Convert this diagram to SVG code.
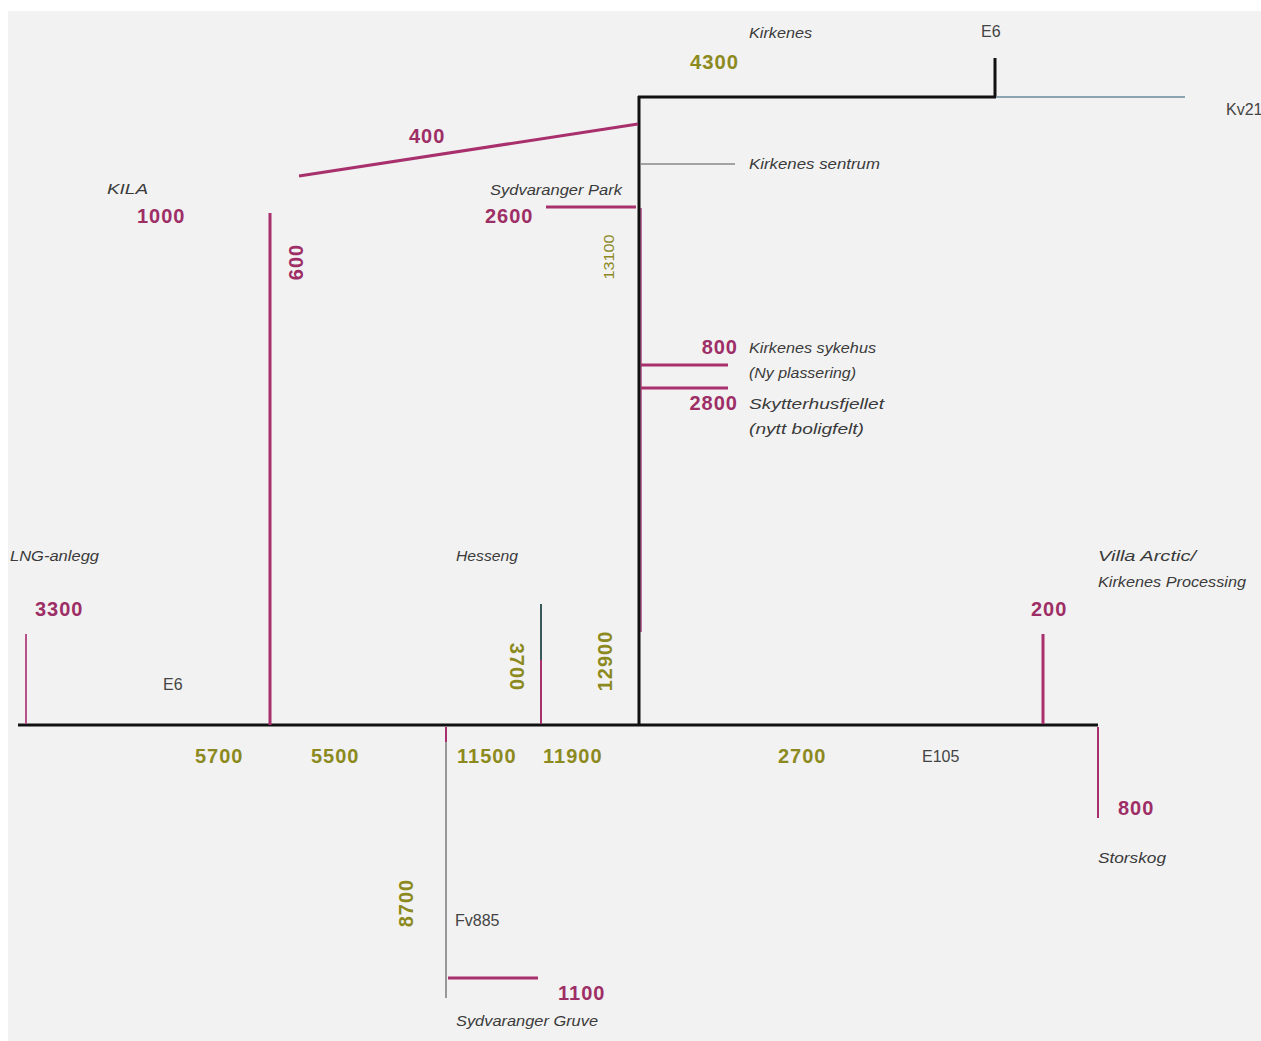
<svg xmlns="http://www.w3.org/2000/svg" width="1261" height="1041" viewBox="0 0 1261 1041">
<style>
.lbl{font-family:"Liberation Sans",Arial,sans-serif;font-style:italic;font-size:15px;fill:#3a3a3a}
.rd{font-family:"Liberation Sans",Arial,sans-serif;font-size:16px;fill:#444}
.pk{font-family:"Liberation Sans",Arial,sans-serif;font-weight:bold;font-size:20px;letter-spacing:1px;fill:#9e2e66}
.ol{font-family:"Liberation Sans",Arial,sans-serif;font-weight:bold;font-size:20px;letter-spacing:1px;fill:#8c8a1e}
.ols{font-family:"Liberation Sans",Arial,sans-serif;font-size:14px;fill:#8c8a1e}
.blk{stroke:#111;stroke-width:3;fill:none}
.pl{stroke:#a8306c;stroke-width:3;fill:none}
.gl{stroke:#888;stroke-width:1.5;fill:none}
</style>
<rect x="0" y="0" width="1261" height="1041" fill="#ffffff"/>
<rect x="8" y="11" width="1253" height="1030" fill="#f2f2f2"/>
<g id="connectors">
<line class="blk" x1="18" y1="725" x2="1098" y2="725"/>
<line x1="641" y1="208" x2="641" y2="632" stroke="#c070a0" stroke-width="2"/>
<line class="blk" x1="639" y1="96" x2="639" y2="726"/>
<line class="blk" x1="638" y1="97" x2="996" y2="97"/>
<line class="blk" x1="995" y1="58" x2="995" y2="97"/>
<line x1="996" y1="97" x2="1185" y2="97" stroke="#6a8a9a" stroke-width="1.5"/>
<line class="pl" x1="299" y1="176" x2="638" y2="124"/>
<line class="gl" x1="641" y1="164" x2="735" y2="164"/>
<line class="pl" x1="546" y1="207" x2="636" y2="207"/>
<line class="pl" x1="270" y1="213" x2="270" y2="725"/>
<line class="pl" x1="641" y1="365" x2="728" y2="365"/>
<line class="pl" x1="641" y1="388" x2="728" y2="388"/>
<line x1="26" y1="634" x2="26" y2="724" stroke="#b8508a" stroke-width="2"/>
<line x1="541" y1="604" x2="541" y2="660" stroke="#3a5a5a" stroke-width="2"/>
<line x1="541" y1="660" x2="541" y2="724" stroke="#a8306c" stroke-width="2"/>
<line class="pl" x1="1043" y1="634" x2="1043" y2="724"/>
<line x1="1098" y1="727" x2="1098" y2="818" stroke="#a8306c" stroke-width="2"/>
<line x1="446" y1="727" x2="446" y2="998" stroke="#999" stroke-width="2"/>
<line x1="446" y1="727" x2="446" y2="742" stroke="#a8306c" stroke-width="2"/>
<line class="pl" x1="448" y1="978" x2="538" y2="978"/>
</g>
<g id="kirkenes"><text class="lbl" x="749" y="38" textLength="63" lengthAdjust="spacingAndGlyphs">Kirkenes</text><text class="ol" x="690" y="69" textLength="49" lengthAdjust="spacingAndGlyphs">4300</text></g>
<g id="e6-top"><text class="rd" x="981" y="37">E6</text></g>
<g id="kv21"><text class="rd" x="1226" y="115" font-size="17">Kv21</text></g>
<g id="n400"><text class="pk" x="409" y="143">400</text></g>
<g id="sentrum"><text class="lbl" x="749" y="169" textLength="131" lengthAdjust="spacingAndGlyphs">Kirkenes sentrum</text></g>
<g id="kila"><text class="lbl" x="107" y="194" textLength="41" lengthAdjust="spacingAndGlyphs">KILA</text><text class="pk" x="137" y="223">1000</text><text class="pk" transform="translate(303,262) rotate(-90)" text-anchor="middle">600</text></g>
<g id="sydpark"><text class="lbl" x="490" y="195" textLength="132" lengthAdjust="spacingAndGlyphs">Sydvaranger Park</text><text class="pk" x="485" y="223">2600</text></g>
<g id="n13100"><text class="ols" transform="translate(614,257) rotate(-90)" text-anchor="middle" textLength="45" lengthAdjust="spacingAndGlyphs">13100</text></g>
<g id="sykehus"><text class="pk" x="738" y="354" text-anchor="end">800</text><text class="lbl" x="749" y="353" textLength="127" lengthAdjust="spacingAndGlyphs">Kirkenes sykehus</text><text class="lbl" x="749" y="378" textLength="107" lengthAdjust="spacingAndGlyphs">(Ny plassering)</text></g>
<g id="skytter"><text class="pk" x="738" y="410" text-anchor="end">2800</text><text class="lbl" x="749" y="409" textLength="135" lengthAdjust="spacingAndGlyphs">Skytterhusfjellet</text><text class="lbl" x="749" y="434" textLength="115" lengthAdjust="spacingAndGlyphs">(nytt boligfelt)</text></g>
<g id="lng"><text class="lbl" x="10" y="561" textLength="89" lengthAdjust="spacingAndGlyphs">LNG-anlegg</text><text class="pk" x="35" y="616">3300</text></g>
<g id="hesseng"><text class="lbl" x="456" y="561" textLength="62" lengthAdjust="spacingAndGlyphs">Hesseng</text><text class="ol" transform="translate(510,667) rotate(90)" text-anchor="middle">3700</text></g>
<g id="n12900"><text class="ol" transform="translate(612,661) rotate(-90)" text-anchor="middle">12900</text></g>
<g id="villa"><text class="lbl" x="1098" y="561" textLength="98" lengthAdjust="spacingAndGlyphs">Villa Arctic/</text><text class="lbl" x="1098" y="587" textLength="148" lengthAdjust="spacingAndGlyphs">Kirkenes Processing</text><text class="pk" x="1031" y="616">200</text></g>
<g id="e6-bottom"><text class="rd" x="163" y="690">E6</text></g>
<g id="bottom-counts"><text class="ol" x="195" y="763">5700</text><text class="ol" x="311" y="763">5500</text><text class="ol" x="457" y="763">11500</text><text class="ol" x="543" y="763">11900</text><text class="ol" x="778" y="763">2700</text><text class="rd" x="922" y="762">E105</text></g>
<g id="storskog"><text class="pk" x="1118" y="815">800</text><text class="lbl" x="1098" y="863" textLength="68" lengthAdjust="spacingAndGlyphs">Storskog</text></g>
<g id="fv885"><text class="ol" transform="translate(413,903) rotate(-90)" text-anchor="middle">8700</text><text class="rd" x="455" y="926">Fv885</text></g>
<g id="gruve"><text class="pk" x="558" y="1000">1100</text><text class="lbl" x="456" y="1026" textLength="142" lengthAdjust="spacingAndGlyphs">Sydvaranger Gruve</text></g>
</svg>
